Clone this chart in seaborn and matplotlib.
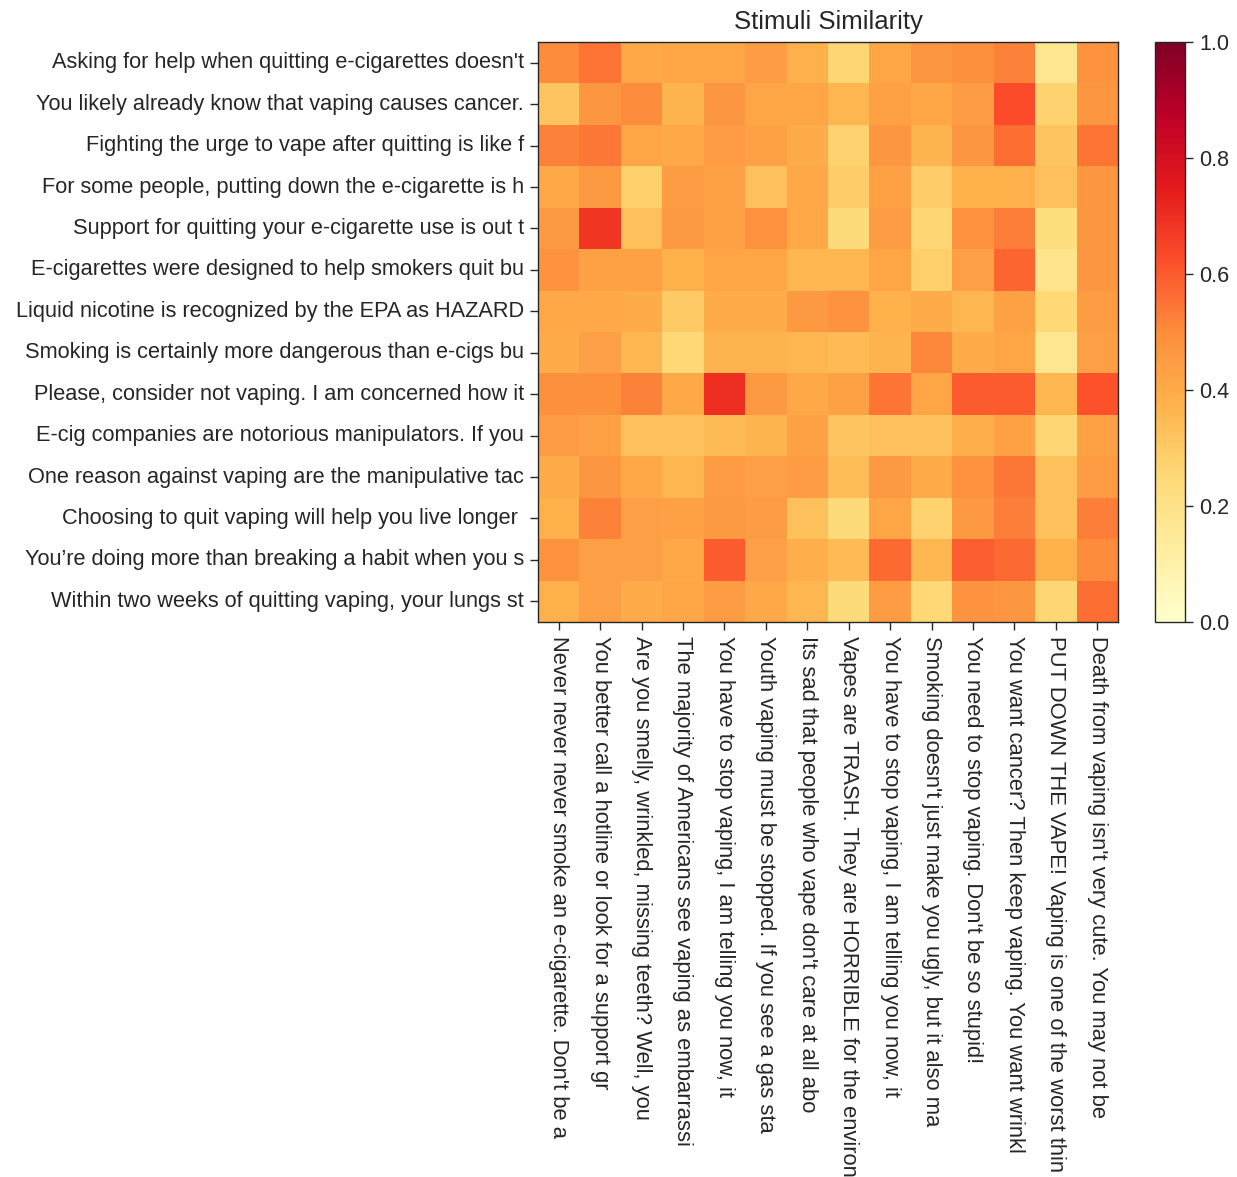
import numpy as np
import pandas as pd
import matplotlib
matplotlib.use("Agg")
import matplotlib.pyplot as plt
import seaborn as sns

row_labels = [
    "Asking for help when quitting e-cigarettes doesn't",
    "You likely already know that vaping causes cancer.",
    "Fighting the urge to vape after quitting is like f",
    "For some people, putting down the e-cigarette is h",
    "Support for quitting your e-cigarette use is out t",
    "E-cigarettes were designed to help smokers quit bu",
    "Liquid nicotine is recognized by the EPA as HAZARD",
    "Smoking is certainly more dangerous than e-cigs bu",
    "Please, consider not vaping. I am concerned how it",
    "E-cig companies are notorious manipulators. If you",
    "One reason against vaping are the manipulative tac",
    "Choosing to quit vaping will help you live longer ",
    "You\u2019re doing more than breaking a habit when you s",
    "Within two weeks of quitting vaping, your lungs st",
]

col_labels = [
    "Never never never smoke an e-cigarette. Don't be a",
    "You better call a hotline or look for a support gr",
    "Are you smelly, wrinkled, missing teeth? Well, you",
    "The majority of Americans see vaping as embarrassi",
    "You have to stop vaping, I am telling you now, it",
    "Youth vaping must be stopped. If you see a gas sta",
    "Its sad that people who vape don't care at all abo",
    "Vapes are TRASH. They are HORRIBLE for the environ",
    "You have to stop vaping, I am telling you now, it",
    "Smoking doesn't just make you ugly, but it also ma",
    "You need to stop vaping. Don't be so stupid!",
    "You want cancer? Then keep vaping. You want wrinkl",
    "PUT DOWN THE VAPE! Vaping is one of the worst thin",
    "Death from vaping isn't very cute. You may not be",
]

similarity = [
    [0.50, 0.55, 0.41, 0.42, 0.42, 0.45, 0.38, 0.26, 0.42, 0.47, 0.49, 0.52, 0.17, 0.48],
    [0.32, 0.47, 0.50, 0.37, 0.47, 0.42, 0.42, 0.36, 0.43, 0.42, 0.45, 0.63, 0.27, 0.47],
    [0.52, 0.54, 0.42, 0.41, 0.45, 0.43, 0.40, 0.27, 0.47, 0.37, 0.47, 0.56, 0.32, 0.55],
    [0.41, 0.46, 0.28, 0.45, 0.43, 0.33, 0.41, 0.29, 0.43, 0.29, 0.38, 0.38, 0.33, 0.47],
    [0.46, 0.68, 0.33, 0.46, 0.43, 0.48, 0.41, 0.24, 0.45, 0.26, 0.48, 0.53, 0.23, 0.47],
    [0.48, 0.43, 0.43, 0.38, 0.42, 0.42, 0.36, 0.36, 0.42, 0.28, 0.44, 0.58, 0.18, 0.47],
    [0.41, 0.41, 0.40, 0.30, 0.40, 0.40, 0.46, 0.48, 0.38, 0.40, 0.36, 0.43, 0.25, 0.45],
    [0.40, 0.44, 0.36, 0.25, 0.37, 0.37, 0.36, 0.35, 0.37, 0.51, 0.40, 0.42, 0.17, 0.44],
    [0.49, 0.49, 0.52, 0.41, 0.70, 0.46, 0.41, 0.43, 0.55, 0.42, 0.60, 0.60, 0.36, 0.62],
    [0.45, 0.43, 0.33, 0.33, 0.35, 0.37, 0.43, 0.32, 0.33, 0.33, 0.39, 0.43, 0.26, 0.43],
    [0.40, 0.47, 0.41, 0.36, 0.45, 0.44, 0.45, 0.34, 0.46, 0.40, 0.48, 0.54, 0.33, 0.45],
    [0.38, 0.52, 0.44, 0.43, 0.46, 0.45, 0.33, 0.24, 0.42, 0.27, 0.46, 0.53, 0.33, 0.53],
    [0.48, 0.44, 0.44, 0.41, 0.60, 0.44, 0.39, 0.35, 0.57, 0.36, 0.59, 0.57, 0.38, 0.50],
    [0.38, 0.44, 0.40, 0.42, 0.45, 0.41, 0.36, 0.24, 0.45, 0.25, 0.48, 0.47, 0.26, 0.56],
]

sns.set_theme(style="ticks")
plt.rcParams['font.family'] = ['Liberation Sans', 'DejaVu Sans']

W, H = 1237, 1177
fig = plt.figure(figsize=(W / 100, H / 100), dpi=100)
ax = fig.add_axes([538 / W, 1 - 622 / H, 580 / W, 580 / H])
cax = fig.add_axes([1155 / W, 1 - 622 / H, 30 / W, 580 / H])

df = pd.DataFrame(similarity, index=row_labels, columns=col_labels)
sns.heatmap(df, ax=ax, cbar_ax=cax, cmap="YlOrRd", vmin=0, vmax=1,
            square=False, linewidths=0, xticklabels=True, yticklabels=True)

for s in ax.spines.values():
    s.set_visible(True)
    s.set_linewidth(1.0)
    s.set_color(".15")

ax.set_xticklabels(col_labels, rotation=270, ha="center", va="top", fontsize=15.8, color=".15")
ax.set_yticklabels(row_labels, rotation=0, va="center", fontsize=15.7, color=".15")
ax.tick_params(axis="both", length=5.5, width=1, color=".15", pad=4.5)
ax.set_title("Stimuli Similarity", fontsize=18.5, color=".15", pad=9)
ax.set_xlabel("")
ax.set_ylabel("")

cb = ax.collections[0].colorbar
cb.outline.set_visible(True)
cb.outline.set_linewidth(1.0)
cb.outline.set_edgecolor(".15")
cb.set_ticks([0.0, 0.2, 0.4, 0.6, 0.8, 1.0])
cb.ax.tick_params(labelsize=15.5, length=5.5, width=1, color=".15", labelcolor=".15", pad=4.5)

fig.savefig("out.png", dpi=100)
